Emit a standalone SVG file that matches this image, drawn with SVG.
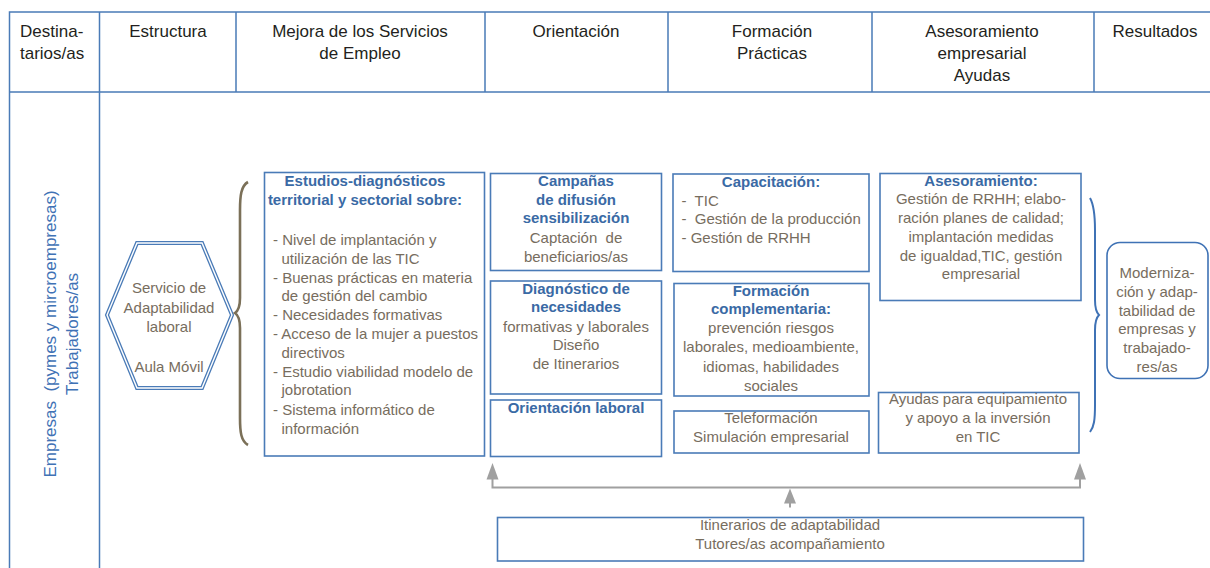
<svg xmlns="http://www.w3.org/2000/svg" width="1210" height="568" viewBox="0 0 1210 568">
<style>
text{font-family:"Liberation Sans",Arial,sans-serif;}
.h{font-size:17px;fill:#231f20;text-anchor:middle;}
.t{font-size:15px;fill:#776d5e;}
.c{text-anchor:middle;}
.b{font-size:15px;font-weight:bold;fill:#3a6aa5;text-anchor:middle;}
.v{font-size:17px;fill:#3f72b5;text-anchor:middle;white-space:pre;}
.box{fill:#fff;stroke:#4a7bb7;stroke-width:1.6;}
.grid{stroke:#4a7bb7;stroke-width:1.5;fill:none;}
.arr{stroke:#a0a0a0;stroke-width:2;fill:none;}
.ah{fill:#a0a0a0;}
</style>
<rect width="1210" height="568" fill="#fff"/>
<g id="table">
<path class="grid" d="M9.5,568 V12 H1210 M9.5,92 H1210 M99.5,12 V568 M236,12 V92 M485,12 V92 M668,12 V92 M872,12 V92 M1094,12 V92"/>
<text class="h" x="20" y="37" style="text-anchor:start">Destina-</text>
<text class="h" x="20" y="59" style="text-anchor:start">tarios/as</text>
<text class="h" x="168" y="37">Estructura</text>
<text class="h" x="360" y="37">Mejora de los Servicios</text>
<text class="h" x="360" y="59">de Empleo</text>
<text class="h" x="576" y="37">Orientación</text>
<text class="h" x="772" y="37">Formación</text>
<text class="h" x="772" y="59">Prácticas</text>
<text class="h" x="982" y="37">Asesoramiento</text>
<text class="h" x="982" y="59">empresarial</text>
<text class="h" x="982" y="81">Ayudas</text>
<text class="h" x="1155" y="37">Resultados</text>
</g>
<g id="destinatarios">
<text class="v" transform="translate(56,334) rotate(-90)">Empresas  (pymes y mircroempresas)</text>
<text class="v" transform="translate(78,334) rotate(-90)">Trabajadores/as</text>
</g>
<g id="servicio">
<polygon points="107,315 137,243 202,243 232,315 202,388 137,388" fill="#fff" stroke="#4a7bb7" stroke-width="4"/>
<polygon points="107,315 137,243 202,243 232,315 202,388 137,388" fill="none" stroke="#fff" stroke-width="1.4"/>
<text class="t c" x="169" y="293">Servicio de</text>
<text class="t c" x="169" y="313">Adaptabilidad</text>
<text class="t c" x="169" y="332">laboral</text>
<text class="t c" x="169" y="372">Aula Móvil</text>
</g>
<g id="braces">
<path d="M248,182 C241,186 240,196 240,210 L240,298 C240,307 238,311 235,313 C238,315 240,319 240,328 L240,418 C240,432 241,441 248,445" fill="none" stroke="#7b7058" stroke-width="2.6"/>
<path d="M1090,198 C1094,205 1095,215 1095,230 L1095,300 C1095,308 1097,313 1099,315 C1097,317 1095,322 1095,330 L1095,405 C1095,420 1094,427 1090,432" fill="none" stroke="#3f72b5" stroke-width="2"/>
</g>
<g id="estudios">
<rect class="box" x="264.5" y="172.5" width="220" height="283.5"/>
<text class="b" x="365" y="186">Estudios-diagnósticos</text>
<text class="b" x="365" y="204.5">territorial y sectorial sobre:</text>
<text class="t" x="273" y="245">- Nivel de implantación y</text>
<text class="t" x="281.5" y="263.8">utilización de las TIC</text>
<text class="t" x="273" y="282.6">- Buenas prácticas en materia</text>
<text class="t" x="281.5" y="301.4">de gestión del cambio</text>
<text class="t" x="273" y="320.2">- Necesidades formativas</text>
<text class="t" x="273" y="339">- Acceso de la mujer a puestos</text>
<text class="t" x="281.5" y="357.8">directivos</text>
<text class="t" x="273" y="376.6">- Estudio viabilidad modelo de</text>
<text class="t" x="281.5" y="395.4">jobrotation</text>
<text class="t" x="273" y="414.8">- Sistema informático de</text>
<text class="t" x="281.5" y="433.8">información</text>
</g>
<g id="campanas">
<rect class="box" x="490.5" y="173.5" width="171" height="97"/>
<text class="b" x="576" y="186">Campañas</text>
<text class="b" x="576" y="204.5">de difusión</text>
<text class="b" x="576" y="223.3">sensibilización</text>
<text class="t c" x="576" y="243.3" style="white-space:pre">Captación  de</text>
<text class="t c" x="576" y="261.7">beneficiarios/as</text>
</g>
<g id="diagnostico">
<rect class="box" x="490.5" y="281" width="171" height="113"/>
<text class="b" x="576" y="293.5">Diagnóstico de</text>
<text class="b" x="576" y="312.3">necesidades</text>
<text class="t c" x="576" y="331.7">formativas y laborales</text>
<text class="t c" x="576" y="350">Diseño</text>
<text class="t c" x="576" y="369">de Itinerarios</text>
</g>
<g id="orientacion">
<rect class="box" x="490.5" y="400" width="171" height="56.5"/>
<text class="b" x="576" y="412.5">Orientación laboral</text>
</g>
<g id="capacitacion">
<rect class="box" x="673" y="174" width="196" height="97.5"/>
<text class="b" x="771" y="187">Capacitación:</text>
<text class="t" x="681.5" y="205.7" style="white-space:pre">-  TIC</text>
<text class="t" x="681.5" y="224.3" style="white-space:pre">-  Gestión de la producción</text>
<text class="t" x="681.5" y="243">- Gestión de RRHH</text>
</g>
<g id="formacion">
<rect class="box" x="674" y="283.5" width="195" height="112.5"/>
<text class="b" x="771" y="295.7">Formación</text>
<text class="b" x="771" y="314.3">complementaria:</text>
<text class="t c" x="771" y="333.3">prevención riesgos</text>
<text class="t c" x="771" y="352.3">laborales, medioambiente,</text>
<text class="t c" x="771" y="371.5">idiomas, habilidades</text>
<text class="t c" x="771" y="390.5">sociales</text>
</g>
<g id="teleformacion">
<rect class="box" x="674" y="411" width="195" height="42"/>
<text class="t c" x="771" y="423.3">Teleformación</text>
<text class="t c" x="771" y="442.3">Simulación empresarial</text>
</g>
<g id="asesoramiento">
<rect class="box" x="880" y="173.5" width="201" height="127"/>
<text class="b" x="981" y="185.5">Asesoramiento:</text>
<text class="t c" x="981" y="204">Gestión de RRHH; elabo-</text>
<text class="t c" x="981" y="222.8">ración planes de calidad;</text>
<text class="t c" x="981" y="241.7">implantación medidas</text>
<text class="t c" x="981" y="260.6">de igualdad,TIC, gestión</text>
<text class="t c" x="981" y="279.4">empresarial</text>
</g>
<g id="ayudas">
<rect class="box" x="878.5" y="392.5" width="200.5" height="60.5"/>
<text class="t c" x="978" y="404.3">Ayudas para equipamiento</text>
<text class="t c" x="978" y="423.3">y apoyo a la inversión</text>
<text class="t c" x="978" y="441.8">en TIC</text>
</g>
<g id="resultados">
<rect x="1107" y="242.5" width="101" height="136" rx="13" fill="#fff" stroke="#3f72b5" stroke-width="1.6"/>
<text class="t c" x="1157" y="277.7">Moderniza-</text>
<text class="t c" x="1157" y="296.7">ción y adap-</text>
<text class="t c" x="1157" y="315.7">tabilidad de</text>
<text class="t c" x="1157" y="334.3">empresas y</text>
<text class="t c" x="1157" y="352.9">trabajado-</text>
<text class="t c" x="1157" y="371.7">res/as</text>
</g>
<g id="itinerarios">
<rect class="box" x="497.5" y="517.5" width="586" height="43.5"/>
<text class="t c" x="790" y="530">Itinerarios de adaptabilidad</text>
<text class="t c" x="790" y="549.3">Tutores/as acompañamiento</text>
</g>
<g id="connectors">
<path class="arr" d="M492.5,478 V487.5 H1080 V478 M790,507.5 V502"/>
<polygon class="ah" points="492.5,463 486.5,479.5 498.5,479.5"/>
<polygon class="ah" points="1080,463 1074,479.5 1086,479.5"/>
<polygon class="ah" points="790,488.5 784,503.5 796,503.5"/>
</g>
</svg>
